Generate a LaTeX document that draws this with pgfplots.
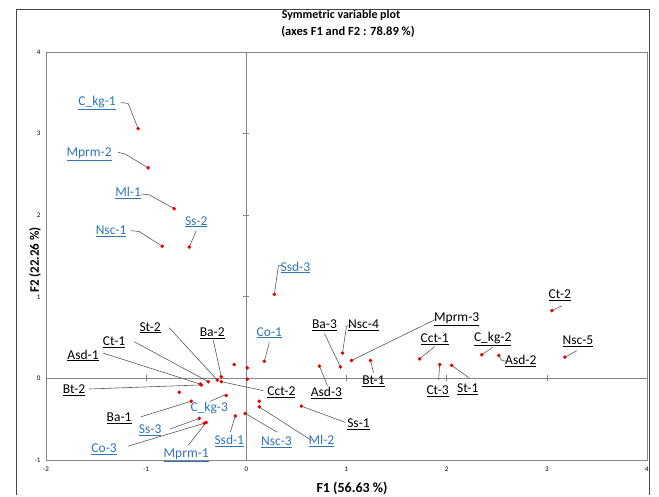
\documentclass[border=0pt]{standalone}
\usepackage{fontspec}
\setmainfont{Carlito}
\usepackage{pgfplots}
\pgfplotsset{compat=1.18}
\definecolor{lblue}{RGB}{46,117,182}
\definecolor{lead}{RGB}{89,89,89}
\definecolor{dot}{RGB}{230,0,0}
\definecolor{frm}{RGB}{134,134,134}
\definecolor{outer}{RGB}{70,70,70}
\newcommand{\lbf}{\fontsize{13.5}{14}\selectfont}
\begin{document}
\begin{tikzpicture}[x=1pt,y=1pt]
\useasboundingbox (0pt,0pt) rectangle (659pt,497pt);
\begin{axis}[at={(46pt,37pt)}, anchor=south west, scale only axis,
  width=601pt, height=408pt,
  xmin=-2, xmax=4, ymin=-1, ymax=4,
  xtick={-2,...,4}, ytick={-1,...,4},
  major tick length=0pt,
  axis line style={frm, line width=0.8pt},
  tick label style={font=\fontsize{7}{8}\selectfont},
  /pgf/number format/assume math mode=true,
  xticklabel style={yshift=-3pt},
  yticklabel style={xshift=-2pt},
  clip=false]
% zero lines and their ticks
\draw[frm, line width=0.7pt] (axis cs:-2,0) -- (axis cs:4,0);
\draw[frm, line width=0.7pt] (axis cs:0,-1) -- (axis cs:0,4);
\pgfplotsinvokeforeach{-1,1,2,3}{
  \draw[frm, line width=0.6pt] ([yshift=-3pt]axis cs:#1,0) -- ([yshift=3pt]axis cs:#1,0);
}
\pgfplotsinvokeforeach{1,2,3}{
  \draw[frm, line width=0.6pt] ([xshift=-3pt]axis cs:0,#1) -- ([xshift=3pt]axis cs:0,#1);
}
% leader lines
\begin{scope}[lead, line width=0.6pt]
\draw (axis cs:-1.25,3.38) -- (axis cs:-1.18,3.37) -- (axis cs:-1.08,3.06);
\draw (axis cs:-1.28,2.77) -- (axis cs:-1.21,2.75) -- (axis cs:-0.98,2.58);
\draw (axis cs:-1.05,2.26) -- (axis cs:-0.97,2.25) -- (axis cs:-0.72,2.08);
\draw (axis cs:-1.15,1.81) -- (axis cs:-1.07,1.80) -- (axis cs:-0.84,1.62);
\draw (axis cs:-0.50,1.81) -- (axis cs:-0.57,1.61);
\draw (axis cs:0.36,1.38) -- (axis cs:0.32,1.38) -- (axis cs:0.28,1.03);
\draw (axis cs:0.23,0.44) -- (axis cs:0.18,0.21);
\draw (axis cs:-0.36,-0.28) -- (axis cs:-0.21,-0.20);
\draw (axis cs:-0.76,-0.62) -- (axis cs:-0.47,-0.49);
\draw (axis cs:-1.18,-0.83) -- (axis cs:-0.42,-0.55);
\draw (axis cs:-0.58,-0.82) -- (axis cs:-0.40,-0.54);
\draw (axis cs:-0.16,-0.66) -- (axis cs:-0.11,-0.46);
\draw (axis cs:0.31,-0.66) -- (axis cs:-0.01,-0.43);
\draw (axis cs:0.65,-0.76) -- (axis cs:0.13,-0.35);
\draw (axis cs:0.78,0.55) -- (axis cs:0.94,0.14);
\draw (axis cs:1.05,0.65) -- (axis cs:1.00,0.64) -- (axis cs:0.96,0.31);
\draw (axis cs:1.90,0.73) -- (axis cs:1.05,0.22);
\draw (axis cs:1.88,0.39) -- (axis cs:1.73,0.24);
\draw (axis cs:2.46,0.38) -- (axis cs:2.35,0.29);
\draw (axis cs:3.15,0.89) -- (axis cs:3.05,0.83);
\draw (axis cs:3.30,0.34) -- (axis cs:3.18,0.26);
\draw (axis cs:2.60,0.21) -- (axis cs:2.55,0.22) -- (axis cs:2.52,0.28);
\draw (axis cs:1.92,-0.02) -- (axis cs:1.93,0.17);
\draw (axis cs:2.23,0.0) -- (axis cs:2.05,0.16);
\draw (axis cs:1.27,0.07) -- (axis cs:1.24,0.22);
\draw (axis cs:0.81,-0.09) -- (axis cs:0.73,0.15);
\draw (axis cs:0.99,-0.54) -- (axis cs:0.55,-0.34);
\draw (axis cs:0.17,-0.15) -- (axis cs:-0.25,-0.04);
\draw (axis cs:-0.77,0.62) -- (axis cs:-0.29,-0.02);
\draw (axis cs:-0.33,0.47) -- (axis cs:-0.25,0.02);
\draw (axis cs:-1.12,0.45) -- (axis cs:-0.38,-0.04);
\draw (axis cs:-1.43,0.31) -- (axis cs:-0.46,-0.07);
\draw (axis cs:-1.57,-0.13) -- (axis cs:-0.45,-0.08);
\draw (axis cs:-1.05,-0.47) -- (axis cs:-0.55,-0.28);
\end{scope}
% points
\addplot[only marks, mark=*, mark size=1.6pt, dot, mark options={draw=dot, fill=dot}] coordinates {
(-1.08,3.06) (-0.98,2.58) (-0.72,2.08) (-0.84,1.62) (-0.57,1.61)
(0.28,1.03) (0.18,0.21) (0.94,0.14) (0.96,0.31) (1.05,0.22)
(1.24,0.22) (0.73,0.15) (1.73,0.24) (1.93,0.17) (2.05,0.16)
(2.35,0.29) (2.52,0.28) (3.05,0.83) (3.18,0.26) (0.55,-0.34)
(0.13,-0.35) (0.13,-0.28) (-0.01,-0.43) (-0.11,-0.46) (-0.40,-0.54)
(-0.42,-0.55) (-0.47,-0.49) (-0.20,-0.21) (-0.55,-0.28) (-0.67,-0.17)
(-0.45,-0.08) (-0.46,-0.07) (-0.38,-0.04) (-0.29,-0.02) (-0.25,0.02)
(-0.25,-0.04) (-0.12,0.17) (0.01,0.13) (0.01,-0.01)
};
% labels
\begin{scope}[every node/.style={font=\lbf, inner sep=0pt}]
\node[text=lblue] at (axis cs:-1.49,3.37) {\underline{C\_kg-1}};
\node[text=lblue] at (axis cs:-1.57,2.75) {\underline{Mprm-2}};
\node[text=lblue] at (axis cs:-1.18,2.27) {\underline{Ml-1}};
\node[text=lblue] at (axis cs:-1.35,1.80) {\underline{Nsc-1}};
\node[text=lblue] at (axis cs:-0.50,1.92) {\underline{Ss-2}};
\node[text=lblue] at (axis cs:0.49,1.36) {\underline{Ssd-3}};
\node[text=lblue] at (axis cs:0.23,0.56) {\underline{Co-1}};
\node[text=lblue] at (axis cs:-0.37,-0.36) {C\_kg-3};
\node[text=lblue] at (axis cs:-0.96,-0.64) {\underline{Ss-3}};
\node[text=lblue] at (axis cs:-1.42,-0.87) {\underline{Co-3}};
\node[text=lblue] at (axis cs:-0.60,-0.94) {\underline{Mprm-1}};
\node[text=lblue] at (axis cs:-0.17,-0.77) {\underline{Ssd-1}};
\node[text=lblue] at (axis cs:0.30,-0.78) {\underline{Nsc-3}};
\node[text=lblue] at (axis cs:0.75,-0.77) {\underline{Ml-2}};
\node at (axis cs:0.78,0.65) {\underline{Ba-3}};
\node at (axis cs:1.17,0.65) {\underline{Nsc-4}};
\node at (axis cs:2.10,0.72) {\underline{Mprm-3}};
\node at (axis cs:1.88,0.48) {\underline{Cct-1}};
\node at (axis cs:2.46,0.48) {\underline{C\_kg-2}};
\node at (axis cs:3.13,1.02) {\underline{Ct-2}};
\node at (axis cs:3.31,0.45) {\underline{Nsc-5}};
\node at (axis cs:2.74,0.21) {\underline{Asd-2}};
\node at (axis cs:1.91,-0.16) {\underline{Ct-3}};
\node at (axis cs:2.21,-0.13) {\underline{St-1}};
\node at (axis cs:1.27,-0.04) {\underline{Bt-1}};
\node at (axis cs:0.80,-0.18) {\underline{Asd-3}};
\node at (axis cs:1.12,-0.56) {\underline{Ss-1}};
\node at (axis cs:0.35,-0.17) {\underline{Cct-2}};
\node at (axis cs:-0.96,0.62) {\underline{St-2}};
\node at (axis cs:-0.34,0.55) {\underline{Ba-2}};
\node at (axis cs:-1.32,0.44) {\underline{Ct-1}};
\node at (axis cs:-1.63,0.28) {\underline{Asd-1}};
\node at (axis cs:-1.72,-0.15) {\underline{Bt-2}};
\node at (axis cs:-1.27,-0.49) {\underline{Ba-1}};
\end{scope}
\end{axis}
\node[font=\bfseries\fontsize{12}{14}\selectfont] at (341pt,482pt) {Symmetric variable plot};
\node[font=\bfseries\fontsize{12.5}{14}\selectfont] at (348pt,465pt) {(axes F1 and F2 : 78.89 \%)};
\node[font=\bfseries\fontsize{14}{16}\selectfont] at (352pt,9pt) {F1 (56.63 \%)};
\node[font=\bfseries\fontsize{13}{16}\selectfont, rotate=90] at (35pt,237pt) {F2 (22.26 \%)};
\draw[outer, line width=1pt] (16pt,2pt) -- (16pt,487pt) -- (649pt,487pt) -- (649pt,2pt);
\end{tikzpicture}
\end{document}
